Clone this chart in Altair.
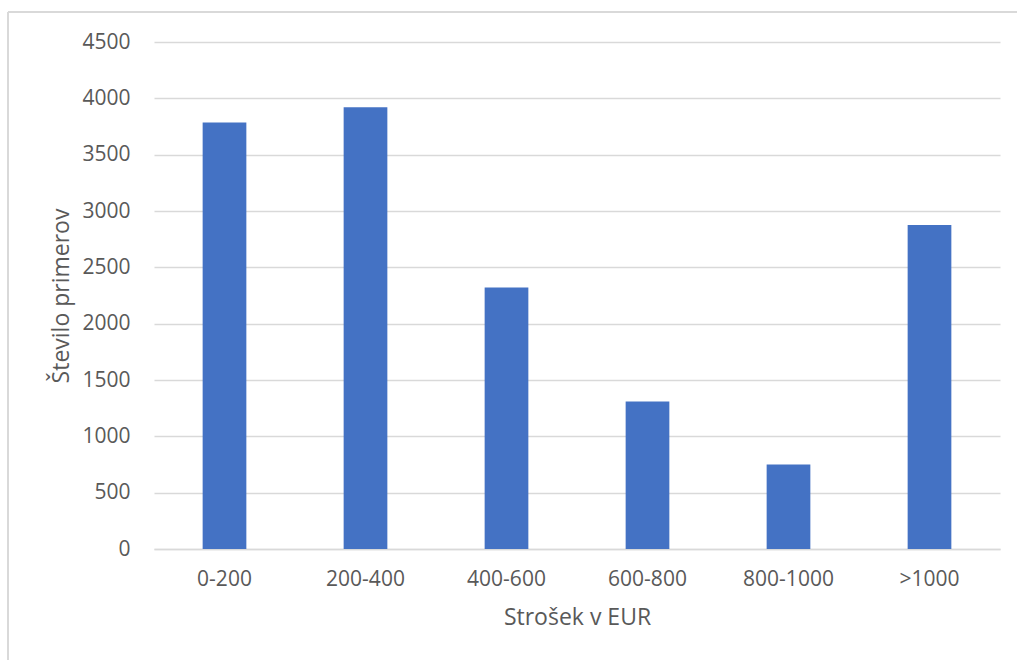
import altair as alt
import pandas as pd

categories = ["0-200", "200-400", "400-600", "600-800", "800-1000", ">1000"]
counts = [3785, 3920, 2320, 1310, 750, 2875]

df = pd.DataFrame({"cat": categories, "n": counts})

FONT = "Open Sans"
GREY_TXT = "#595959"
GRID = "#D9D9D9"

bars = alt.Chart(df).mark_bar(color="#4472C4").encode(
    x=alt.X("cat:N", sort=categories,
            scale=alt.Scale(paddingInner=0.69, paddingOuter=0.345),
            axis=alt.Axis(title="Strošek v EUR", labelAngle=0, ticks=False,
                          domain=True, domainColor=GRID, domainWidth=1.5,
                          labelPadding=19, titlePadding=17,
                          labelFontSize=21, titleFontSize=23,
                          labelColor=GREY_TXT, titleColor=GREY_TXT,
                          labelFont=FONT, titleFont=FONT, titleFontWeight="normal")),
    y=alt.Y("n:Q", scale=alt.Scale(domain=[0, 4500], nice=False),
            axis=alt.Axis(title="Število primerov", values=list(range(0, 4501, 500)),
                          format="d",
                          ticks=False, domain=False, grid=True,
                          gridColor=GRID, gridWidth=1.5,
                          labelPadding=24, titlePadding=8,
                          labelFontSize=21, titleFontSize=23,
                          labelColor=GREY_TXT, titleColor=GREY_TXT,
                          labelFont=FONT, titleFont=FONT, titleFontWeight="normal")),
)

frame_top = alt.Chart(df).mark_rule(color=GRID, strokeWidth=1.5).encode(
    x=alt.value(-146), x2=alt.value(900), y=alt.value(-30)
)
frame_left = alt.Chart(df).mark_rule(color=GRID, strokeWidth=1.5).encode(
    x=alt.value(-146), y=alt.value(-30), y2=alt.value(700)
)

chart = alt.layer(bars, frame_top, frame_left).properties(
    width=846, height=507,
    padding={"left": 154, "top": 42, "right": 17, "bottom": 111},
    autosize=alt.AutoSizeParams(type="none"),
    background="white",
).configure_view(stroke=None)

chart.save("out.html", embed_options={"renderer": "svg", "actions": False})
